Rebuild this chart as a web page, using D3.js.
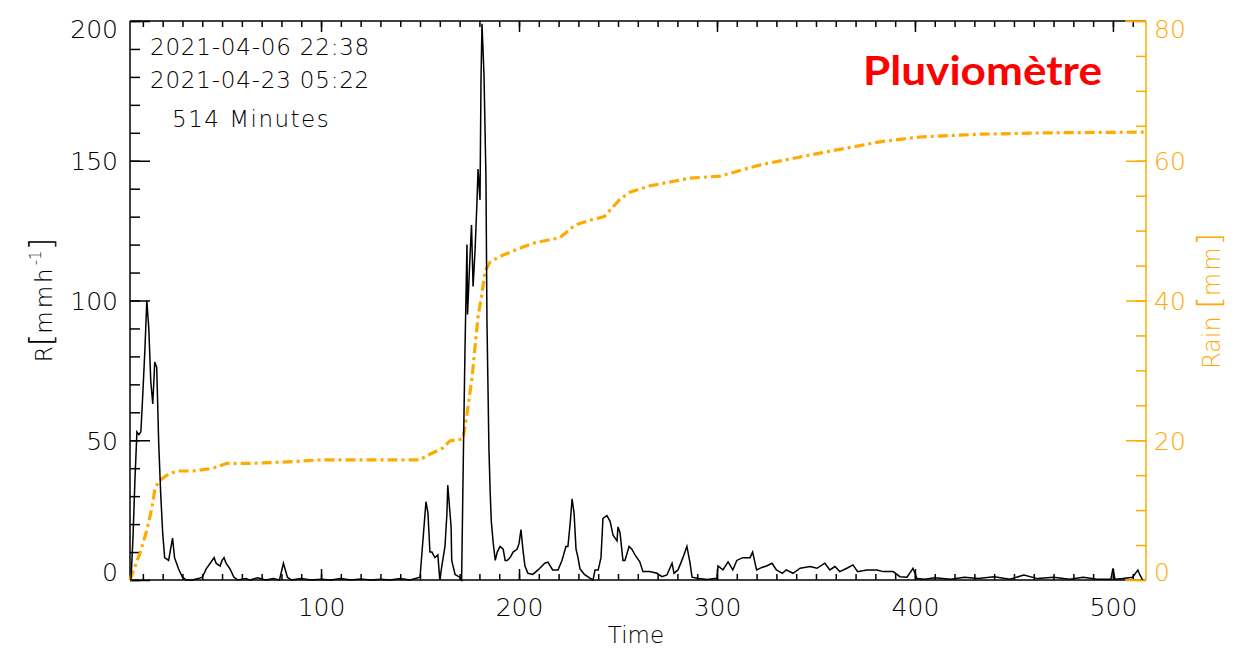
<!DOCTYPE html>
<html>
<head>
<meta charset="utf-8">
<script src="https://cdn.jsdelivr.net/npm/d3@7"></script>
<style>
  body { margin: 0; background: #fff; }
  svg { display: block; }
  .hers { font-family: "DejaVu Sans", sans-serif; font-weight: 200; }
</style>
</head>
<body>
<svg id="chart" width="1249" height="651"></svg>
<script>
// rain rate R [mm/h] (minutes, value)
const rTime = [
  4, 5, 6, 7, 8, 9, 10, 11, 12, 13,
  14, 15, 16, 17, 18, 19, 20, 21, 23, 25,
  26, 28, 30, 32, 35, 38, 40, 42, 44, 46,
  47, 49, 50, 51, 52, 54, 56, 58, 62, 64,
  68, 72, 76, 79, 81, 83, 85, 90, 95, 100,
  105, 110, 115, 120, 125, 130, 135, 140, 145, 150,
  153, 154, 155, 156, 157.5, 159, 160, 161, 162.6, 163.6,
  164, 165.7, 166, 167.7, 170, 171, 172, 172.7, 173.7, 174,
  175, 176, 176.8, 177.8, 178.8, 179.3, 180.3, 180.8, 181.3, 182.3,
  183.3, 183.8, 184.8, 185.4, 186, 187, 188, 189, 190.4, 192,
  193, 194, 195.5, 197, 199, 200, 201, 202, 203, 204.5,
  207, 209.6, 211.6, 213, 214.6, 217, 219.7, 221.7, 223.7, 224.7,
  225.8, 226.8, 227.8, 228.8, 229.8, 230.8, 233, 236, 237.4, 238.4,
  240, 241.4, 242.4, 244.4, 246, 247.5, 249.5, 250, 251, 252.5,
  253.5, 255.6, 257, 258.6, 261, 262.6, 266, 269.7, 272.2, 274.7,
  277.3, 278.3, 280.3, 282.8, 284.8, 286.4, 287.4, 290, 295, 300,
  300.5, 303, 305.6, 308, 310, 313, 316.7, 318, 320, 322.7,
  325, 327.8, 330, 333, 335, 338.4, 342, 347, 350.5, 354.5,
  357, 359.6, 362, 365.6, 368.7, 371, 375.6, 380.8, 384, 389,
  392.4, 396, 399, 401, 405, 410, 418, 425, 432, 440,
  448, 455, 462, 470, 478, 485, 492, 499, 500, 501,
  505, 510, 512.6, 513.5, 515
];
const rRate = [
  0, 15, 36, 53, 52, 53, 67, 82, 100, 90,
  71, 63, 78, 76, 49, 31, 17, 8, 7, 15,
  8, 4, 1, 0, 0, 0.5, 1, 4, 6, 8,
  6, 5, 7, 8, 6, 4, 1, 0, 0.5, 0,
  0.8, 0, 0.5, 0, 6, 1, 0, 0.5, 0, 0.3,
  0, 0.5, 0, 0.4, 0, 0.3, 0, 0.5, 0, 1,
  28, 24, 10, 10, 8, 9, 0, 5, 12, 24,
  34, 19, 7, 2, 1, 0, 50, 82, 120, 95,
  112, 127, 105, 118, 136, 147, 136, 179, 199, 181,
  144, 93, 47, 32, 21, 13, 7, 10, 12, 11,
  7, 7, 8, 10, 11, 13, 18, 10.7, 5, 2.4,
  2, 3.6, 5, 6, 6.4, 3.6, 3.6, 7, 12, 12,
  20, 29, 24, 11, 8, 4, 2, 0.6, 0, 3.6,
  3.6, 8, 22, 23, 21, 16, 14, 19, 17, 7,
  7, 12, 11, 9, 6.5, 3, 3, 2.4, 1.2, 1.8,
  6, 2.4, 3.6, 8, 12, 6, 1, 0.6, 0.2, 0.6,
  5, 3.6, 6.5, 3.6, 7, 8, 8, 10, 3.6, 4.5,
  5, 6, 3.6, 2.4, 3.6, 2.4, 4.2, 4.8, 4.2, 6,
  3.6, 4.8, 3, 4.2, 5.4, 3, 3.6, 3.6, 3, 3,
  1.2, 1, 4.2, 0.5, 0.3, 0.8, 0.3, 1, 0.5, 1.2,
  0.3, 1.8, 0.5, 1, 0.3, 1, 0.3, 0.3, 4.2, 0.3,
  0.5, 1, 3.6, 2, 0
];

// cumulated rain [mm]
const rainTime = [3.5, 8.6, 12.1, 14.6, 16.2, 18.7, 23.7, 28.8, 35.4, 45.5,
  52.5, 65.7, 82.8, 99.5, 140, 150, 153.5, 161.6, 165, 171.7,
  173.7, 176.3, 177.8, 179.3, 181.3, 182.8, 185.4, 190.4, 197, 207,
  220.7, 223.2, 228.3, 236, 243, 251, 256, 266, 286, 301.5,
  321.7, 352, 382, 402.5, 433, 468, 516.7];
const rainMm = [0, 3.9, 7.2, 10.4, 13.2, 14.3, 15.3, 15.6, 15.6, 16,
  16.7, 16.7, 16.9, 17.2, 17.2, 17.2, 17.8, 18.9, 19.9, 20.2,
  23.7, 29, 33.4, 37.7, 41, 44.2, 45.5, 46.3, 47.1, 48.2,
  49, 49.6, 50.8, 51.5, 52, 54.5, 55.5, 56.4, 57.5, 57.8,
  59.4, 61.1, 62.7, 63.4, 63.8, 64, 64.1];

const xMajor = [100, 200, 300, 400, 500];
const xMinor = d3.range(10, 517, 10);
const yMajor = [0, 50, 100, 150, 200];
const yMinor = d3.range(0, 201, 10);
const y2Major = [0, 20, 40, 60, 80];
const y2Minor = d3.range(0, 81, 5);
const infoLines = ["2021-04-06 22:38", "2021-04-23 05:22", "514 Minutes"];

const orange = "#ffaa00";
const svg = d3.select("#chart");

let pLeft = 130, pRight = 1146, pTop = 21, pBottom = 580;

let x = d3.scaleLinear().domain([3.5, 516.7]).range([pLeft, pRight]);
let y = d3.scaleLinear().domain([0, 200]).range([pBottom, pTop]);
let y2 = d3.scaleLinear().domain([0, 80]).range([pBottom, pTop]);

// frame
svg.append("line").attr("x1", pLeft).attr("x2", pRight).attr("y1", pBottom).attr("y2", pBottom)
  .attr("stroke", "#000").attr("stroke-width", 1.5);
svg.append("line").attr("x1", pLeft).attr("x2", pRight).attr("y1", pTop).attr("y2", pTop)
  .attr("stroke", "#000").attr("stroke-width", 1.5);
svg.append("line").attr("x1", pLeft).attr("x2", pLeft).attr("y1", pTop).attr("y2", pBottom)
  .attr("stroke", "#000").attr("stroke-width", 1.5);

function clean(g) {
  g.select(".domain").remove();
  g.selectAll(".tick line").attr("stroke-width", 1.5);
}

// x axis (bottom + top)
svg.append("g").attr("transform", "translate(0," + pBottom + ")")
  .call(d3.axisBottom(x).tickValues(xMinor).tickSize(-6).tickFormat(""))
  .call(clean);
let xb = svg.append("g").attr("transform", "translate(0," + pBottom + ")")
  .call(d3.axisBottom(x).tickValues(xMajor).tickSize(-11))
  .call(clean);
xb.selectAll("text").attr("y", 36).attr("dy", null)
  .attr("class", "hers").attr("font-size", 25).attr("fill", "#000");
svg.append("g").attr("transform", "translate(0," + pTop + ")")
  .call(d3.axisTop(x).tickValues(xMinor).tickSize(-6).tickFormat(""))
  .call(clean);
svg.append("g").attr("transform", "translate(0," + pTop + ")")
  .call(d3.axisTop(x).tickValues(xMajor).tickSize(-11).tickFormat(""))
  .call(clean);

// left axis
svg.append("g").attr("transform", "translate(" + pLeft + ",0)")
  .call(d3.axisLeft(y).tickValues(yMinor).tickSize(-10).tickFormat(""))
  .call(clean);
let yl = svg.append("g").attr("transform", "translate(" + pLeft + ",0)")
  .call(d3.axisLeft(y).tickValues(yMajor).tickSize(-20).tickPadding(12))
  .call(clean);
yl.selectAll("text").attr("dy", null)
  .attr("y", d => d === 200 ? 16 : d === 0 ? 0 : 9)
  .attr("class", "hers").attr("font-size", 25).attr("fill", "#000");

// right axis (orange)
svg.append("line").attr("x1", 1125).attr("x2", pRight).attr("y1", pTop).attr("y2", pTop)
  .attr("stroke", orange).attr("stroke-width", 1.5);
svg.append("line").attr("x1", 1125).attr("x2", pRight).attr("y1", pBottom).attr("y2", pBottom)
  .attr("stroke", orange).attr("stroke-width", 1.5);
svg.append("line").attr("x1", pRight).attr("x2", pRight).attr("y1", pTop).attr("y2", pBottom)
  .attr("stroke", orange).attr("stroke-width", 1.5);
svg.append("g").attr("transform", "translate(" + pRight + ",0)")
  .call(d3.axisRight(y2).tickValues(y2Minor).tickSize(-10).tickFormat(""))
  .call(clean)
  .selectAll(".tick line").attr("stroke", orange);
let yr = svg.append("g").attr("transform", "translate(" + pRight + ",0)")
  .call(d3.axisRight(y2).tickValues(y2Major).tickSize(-20).tickPadding(8))
  .call(clean);
yr.selectAll(".tick line").attr("stroke", orange);
yr.selectAll("text").attr("dy", null)
  .attr("y", d => d === 80 ? 16 : d === 0 ? 0 : 9)
  .attr("class", "hers").attr("font-size", 25).attr("fill", orange);

// data lines
let rData = rTime.map((t, i) => [t, rRate[i]]);
let rainData = rainTime.map((t, i) => [t, rainMm[i]]);

svg.append("path").datum(rainData)
  .attr("fill", "none").attr("stroke", orange).attr("stroke-width", 3.2)
  .attr("stroke-dasharray", "10,4,3,4")
  .attr("d", d3.line().x(d => x(d[0])).y(d => y2(d[1])));

svg.append("path").datum(rData)
  .attr("fill", "none").attr("stroke", "#000").attr("stroke-width", 1.5)
  .attr("stroke-linejoin", "miter")
  .attr("d", d3.line().x(d => x(d[0])).y(d => y(d[1])));

// info text
svg.selectAll(".info").data(infoLines).enter().append("text")
  .attr("class", "hers info")
  .attr("x", (d, i) => i === 2 ? 172 : 150)
  .attr("y", (d, i) => [55, 88, 127][i])
  .attr("font-size", 23)
  .attr("letter-spacing", (d, i) => i === 2 ? 1.5 : 0.8)
  .attr("fill", "#000")
  .text(d => d);

// axis titles
svg.append("text").attr("class", "hers")
  .attr("x", 636).attr("y", 643).attr("text-anchor", "middle")
  .attr("font-size", 23).attr("fill", "#000").text("Time");

let rl = svg.append("text").attr("class", "hers")
  .attr("transform", "translate(52,300) rotate(-90)")
  .attr("text-anchor", "middle").attr("font-size", 23).attr("fill", "#000");
rl.append("tspan").text("R");
rl.append("tspan").attr("font-size", 32).text("[");
rl.append("tspan").attr("letter-spacing", 3).text("mmh");
rl.append("tspan").attr("font-size", 15).attr("dy", -11).text("-1");
rl.append("tspan").attr("font-size", 32).attr("dy", 11).text("]");

let rn = svg.append("text").attr("class", "hers")
  .attr("transform", "translate(1220,301) rotate(-90)")
  .attr("text-anchor", "middle").attr("font-size", 24).attr("fill", orange);
rn.append("tspan").text("Rain ");
rn.append("tspan").attr("font-size", 32).text("[");
rn.append("tspan").attr("letter-spacing", 2).text("mm");
rn.append("tspan").attr("font-size", 32).text("]");

// title
svg.append("text")
  .attr("x", 863).attr("y", 85)
  .attr("font-family", "Lato, 'Open Sans', sans-serif")
  .attr("font-weight", 700).attr("font-size", 40)
  .attr("textLength", 239).attr("lengthAdjust", "spacingAndGlyphs")
  .attr("fill", "#ff0000")
  .text("Pluviomètre");
</script>
</body>
</html>
